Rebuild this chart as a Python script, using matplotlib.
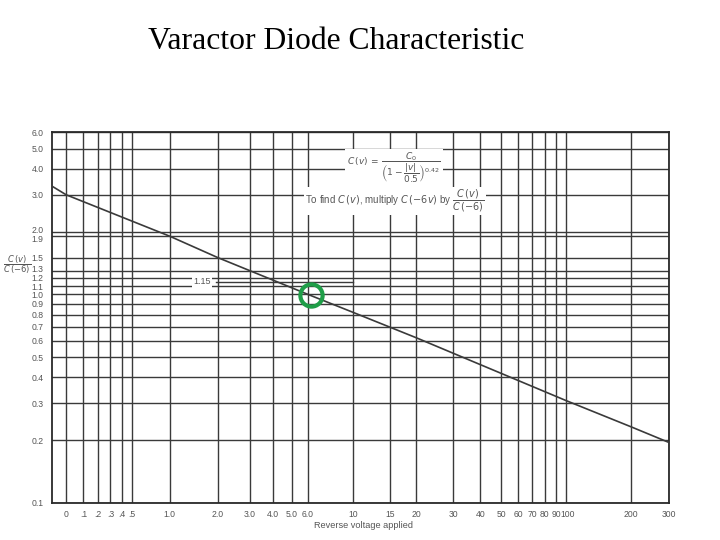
import numpy as np
import matplotlib
matplotlib.use('Agg')
import matplotlib.pyplot as plt
import matplotlib.transforms as mtransforms
from matplotlib.ticker import NullLocator

title = "Varactor Diode Characteristic"
x_ticks = [0, .1, .2, .3, .4, .5, 1, 2, 3, 4, 5, 6, 10, 15, 20, 30, 40, 50,
           60, 70, 80, 90, 100, 200, 300]
x_labels = ['0', '.1', '.2', '.3', '.4', '.5', '1.0', '2.0', '3.0', '4.0', '5.0',
            '6.0', '10', '15', '20', '30', '40', '50', '60', '70', '80', '90',
            '100', '200', '300']
y_ticks = [0.1, 0.2, 0.3, 0.4, 0.5, 0.6, 0.7, 0.8, 0.9, 1.0, 1.1, 1.2, 1.3,
           1.5, 1.9, 2.0, 3.0, 4.0, 5.0, 6.0]
y_labels = ['0.1', '0.2', '0.3', '0.4', '0.5', '0.6', '0.7', '0.8', '0.9', '1.0',
            '1.1', '1.2', '1.3', '1.5', '1.9', '2.0', '3.0', '4.0', '5.0', '6.0']

# curve: reverse voltage vs C(v)/C(-6)
curve_v = [-0.07, 0.0, 1.0, 2.0, 6.0, 10, 20, 100, 200, 300]
curve_c = [3.3, 3.0, 1.9, 1.5, 1.0, 0.82, 0.62, 0.31, 0.232, 0.195]

marked_v, marked_c = 6.2, 0.99
ref_level = 1.15
ref_span = [1.95, 10]

plt.rcParams['font.family'] = ['Liberation Sans', 'DejaVu Sans']

fig = plt.figure(figsize=(7.2, 5.4), dpi=100)
W, H = 720, 540
ax = fig.add_axes([52 / W, 1 - 503 / H, (669 - 52) / W, (503 - 132) / H])


def fwd(v):
    return np.log10(np.maximum(np.asarray(v, dtype=float) + 0.5, 1e-9))


def inv(u):
    return 10 ** np.asarray(u, dtype=float) - 0.5


ax.set_xscale('function', functions=(fwd, inv))
ax.set_yscale('log')
ax.set_xlim(-0.07, 300)
ax.set_ylim(0.1, 6.0)

ax.set_xticks(x_ticks, x_labels)
ax.set_yticks(y_ticks, y_labels)
ax.xaxis.set_minor_locator(NullLocator())
ax.yaxis.set_minor_locator(NullLocator())
ax.tick_params(length=0, labelsize=6.2, colors='#555555')
ax.tick_params(axis='x', pad=5)
ax.tick_params(axis='y', pad=6)

# spread the tightly packed labels a little, as on the printed chart
nudge = {'2.0': 2.5, '1.9': -2.0, '1.3': 1.8, '1.1': -0.8}
for lab in ax.get_yticklabels():
    dy = nudge.get(lab.get_text(), 0)
    if dy:
        lab.set_transform(lab.get_transform() +
                          mtransforms.ScaledTranslation(0, dy / 100, fig.dpi_scale_trans))
for lab in ax.get_xticklabels():
    if lab.get_text() == '100':
        lab.set_transform(lab.get_transform() +
                          mtransforms.ScaledTranslation(2 / 100, 0, fig.dpi_scale_trans))

ax.grid(True, which='major', color='#3a3a3a', lw=1.0)
for s in ax.spines.values():
    s.set_color('#2a2a2a')
    s.set_linewidth(1.3)

ax.plot(curve_v, curve_c, color='#3a3a3a', lw=1.2, zorder=3)
ax.plot(ref_span, [ref_level, ref_level], color='#3a3a3a', lw=1.0, zorder=2)
ax.text(1.62, ref_level, '1.15', fontsize=6.5, color='#555555', ha='center',
        va='center', bbox=dict(facecolor='white', edgecolor='none', pad=1.0),
        zorder=4)

ax.plot([marked_v], [marked_c], marker='o', ms=16, mfc='none', mec='#1f9e48',
        mew=3, zorder=5)

fig.text(336 / W, 1 - 42 / H, title, family='Liberation Serif', fontsize=22.8,
         ha='center', va='center')

fig.text(394 / W, 1 - 168 / H,
         r'$C\,(v)\,=\,\dfrac{C_0}{\left(1-\dfrac{|v|}{0.5}\right)^{0.42}}$',
         fontsize=6.5, color='#555555', ha='center', va='center',
         bbox=dict(facecolor='white', edgecolor='none', pad=1.5))
fig.text(395 / W, 1 - 201 / H,
         r'To find $C\,(v)$, multiply $C\,(-6v)$ by $\dfrac{C\,(v)}{C\,(-6)}$',
         fontsize=7, color='#555555', ha='center', va='center',
         bbox=dict(facecolor='white', edgecolor='none', pad=1.0))

fig.text(17 / W, 1 - 265 / H, r'$\dfrac{C\,(v)}{C\,(-6)}$', fontsize=6.0,
         color='#555555', ha='center', va='center')
fig.text(364 / W, 1 - 525 / H, 'Reverse voltage applied', fontsize=6.6,
         color='#555555', ha='center', va='center')

fig.savefig('out.png', dpi=100)
